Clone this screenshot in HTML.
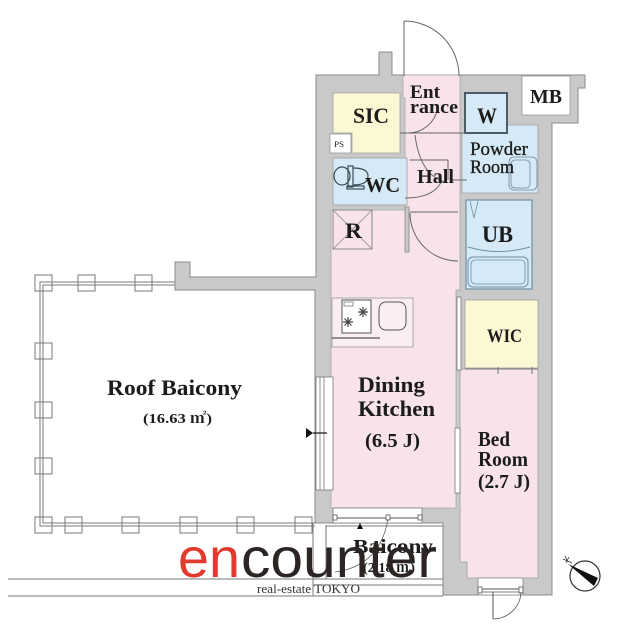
<!DOCTYPE html>
<html><head><meta charset="utf-8"><style>
html,body{margin:0;padding:0;background:#fff;}
svg{display:block;}
text{font-family:"Liberation Serif","Noto Serif CJK JP",serif;}
</style></head><body>
<svg width="618" height="640" viewBox="0 0 618 640" xmlns="http://www.w3.org/2000/svg">
<rect width="618" height="640" fill="#fff"/>

<!-- Roof balcony parapet -->
<g fill="none" stroke="#7a7a7a" stroke-width="1">
  <path d="M175,282 L40,282 L40,526 L315,526"/>
  <path d="M175,285 L43,285 L43,523 L315,523"/>
  <rect x="35" y="275" width="17" height="16"/>
  <rect x="78" y="275" width="17" height="16"/>
  <rect x="135" y="275" width="17" height="16"/>
  <rect x="35" y="343" width="17" height="16"/>
  <rect x="35" y="402" width="17" height="16"/>
  <rect x="35" y="458" width="17" height="16"/>
  <rect x="35" y="517" width="17" height="16"/>
  <rect x="65" y="517" width="17" height="16"/>
  <rect x="122" y="517" width="17" height="16"/>
  <rect x="180" y="517" width="17" height="16"/>
  <rect x="237" y="517" width="17" height="16"/>
  <rect x="295" y="517" width="17" height="16"/>
  <line x1="8" y1="579" x2="443" y2="579"/>
  <line x1="8" y1="596" x2="443" y2="596"/>
  <line x1="313" y1="585" x2="443" y2="585"/>
  <line x1="313" y1="523" x2="313" y2="596"/>
  <line x1="326" y1="525" x2="326" y2="579"/>
  <line x1="326" y1="526" x2="443" y2="526"/>
</g>

<!-- Walls -->
<path d="M316,75 L379,75 L379,52 L392,52 L392,75 L585,75 L585,88 L578,88 L578,123 L552,123 L552,595 L443,595 L443,523 L315,523 L315,290 L175,290 L175,262 L190,262 L190,277 L316,277 Z" fill="#c9c9c9" stroke="#8a8a8a" stroke-width="1"/>

<!-- Pink hall + kitchen -->
<path d="M403,75 L460,75 L460,290 L456,290 L456,508 L331,508 L331,210 L405,210 L405,98 L403,98 Z" fill="#f8e3eb" stroke="#a8a8a8" stroke-width="0.8"/>

<!-- Bedroom -->
<path d="M460,369 L538,369 L538,578 L467,578 L467,562 L460,562 Z" fill="#f8e3eb" stroke="#a0a0a0" stroke-width="0.8"/>
<!-- WIC -->
<rect x="465" y="300" width="73" height="68" fill="#fcf8d4" stroke="#a0a0a0" stroke-width="0.8"/>
<line x1="465" y1="369" x2="538" y2="369" stroke="#777" stroke-width="1"/>
<line x1="498" y1="367" x2="498" y2="374" stroke="#777" stroke-width="1"/>
<line x1="532" y1="367" x2="532" y2="374" stroke="#777" stroke-width="1"/>

<!-- SIC -->
<path d="M333,93 L400,93 L400,153 L352,153 L352,133 L333,133 Z" fill="#fcf8d4" stroke="#a0a0a0" stroke-width="0.8"/>
<rect x="330" y="134" width="21" height="19" fill="#fff" stroke="#999" stroke-width="0.8"/>
<!-- WC -->
<rect x="333" y="158" width="74" height="47" fill="#d5eaf6" stroke="#a0a0a0" stroke-width="0.8"/>
<!-- R box -->
<rect x="333" y="210" width="39" height="39" fill="#f8e3eb" stroke="#8a8a8a" stroke-width="1"/>
<line x1="333" y1="210" x2="372" y2="249" stroke="#8a8a8a" stroke-width="0.8"/>
<line x1="372" y1="210" x2="333" y2="249" stroke="#8a8a8a" stroke-width="0.8"/>

<!-- Powder room -->
<path d="M462,133 L507,133 L507,125 L538,125 L538,193 L462,193 Z" fill="#d5eaf6" stroke="#a0a0a0" stroke-width="0.8"/>
<rect x="465" y="93" width="42" height="40" fill="#d5eaf6" stroke="#4d5b63" stroke-width="2"/>
<rect x="509" y="157" width="28" height="33" rx="5" fill="none" stroke="#6f8796" stroke-width="0.8"/>
<rect x="511" y="160" width="19" height="28" rx="4" fill="none" stroke="#6f8796" stroke-width="0.8"/>
<!-- UB -->
<rect x="466" y="200" width="66" height="89" fill="#d5eaf6" stroke="#6f8fa3" stroke-width="1.2"/>
<path d="M468,247 Q498,256 530,247" fill="none" stroke="#6f8fa3" stroke-width="1"/>
<rect x="468" y="257" width="60" height="30" rx="5" fill="none" stroke="#6f8fa3" stroke-width="1"/>
<rect x="471" y="260" width="54" height="24" rx="4" fill="none" stroke="#6f8fa3" stroke-width="0.8"/>
<path d="M470,201 L474,218 L478,201" fill="none" stroke="#6f8fa3" stroke-width="0.8"/>
<!-- MB -->
<rect x="522" y="76" width="48" height="39" fill="#fff" stroke="#999" stroke-width="0.8"/>

<!-- Doors / hall lines -->
<g fill="none" stroke="#666" stroke-width="1">
  <line x1="404" y1="21" x2="404" y2="76"/>
  <path d="M404,21 A55,55 0 0 1 459,76"/>
  <line x1="400" y1="133" x2="467" y2="133"/>
  <path d="M438,105 A30,30 0 0 1 408,133"/>
  <path d="M415,135 Q420,175 445,182"/>
  <line x1="410" y1="160" x2="448" y2="160"/>
  <line x1="448" y1="160" x2="448" y2="180"/>
  <path d="M442,180 Q435,198 405,198"/>
  <line x1="450" y1="180" x2="467" y2="180"/>
  <line x1="410" y1="212" x2="458" y2="212"/>
  <path d="M410,213 A48,48 0 0 0 458,261"/>
</g>
<rect x="405" y="207" width="4" height="45" fill="#c9c9c9" stroke="#888" stroke-width="0.8"/>

<!-- Toilet -->
<g fill="none" stroke="#3a4a55" stroke-width="1.2">
  <ellipse cx="342" cy="176" rx="8" ry="9"/>
  <rect x="348" y="166" width="5" height="21"/>
  <path d="M353,168 Q368,168 368,176 Q368,185 353,185"/>
  <rect x="347" y="186" width="17" height="3"/>
</g>

<!-- Kitchen counter -->
<rect x="332" y="298" width="81" height="49" fill="#fbeef3" stroke="#999" stroke-width="0.8"/>
<rect x="342" y="300" width="29" height="33" fill="#fff" stroke="#555" stroke-width="1"/>
<rect x="344" y="302" width="9" height="4" fill="none" stroke="#555" stroke-width="0.6"/>
<g stroke="#444" stroke-width="1.2">
  <path d="M363,307 L363,317 M358,312 L368,312 M359.5,308.5 L366.5,315.5 M366.5,308.5 L359.5,315.5"/>
  <path d="M348,317 L348,327 M343,322 L353,322 M344.5,318.5 L351.5,325.5 M351.5,318.5 L344.5,325.5"/>
</g>
<rect x="379" y="302" width="27" height="28" rx="7" fill="none" stroke="#555" stroke-width="1"/>
<line x1="332" y1="338" x2="380" y2="338" stroke="#555" stroke-width="1.2"/>

<!-- Left window -->
<rect x="316" y="377" width="17" height="113" fill="#fff" stroke="#777" stroke-width="0.8"/>
<line x1="320" y1="377" x2="320" y2="490" stroke="#777" stroke-width="0.8"/>
<line x1="324" y1="377" x2="324" y2="490" stroke="#777" stroke-width="0.8"/>
<polygon points="306,428 306,438 313,433" fill="#111"/>
<line x1="313" y1="433" x2="327" y2="433" stroke="#111" stroke-width="1.2"/>

<!-- Sliding doors -->
<g fill="#fff" stroke="#777" stroke-width="0.8">
  <rect x="457" y="297" width="4" height="73"/>
  <rect x="455" y="428" width="5" height="65"/>
</g>

<!-- Bottom balcony window -->
<rect x="333" y="508" width="89" height="15" fill="#fff" stroke="#777" stroke-width="0.8"/>
<line x1="333" y1="518" x2="422" y2="518" stroke="#555" stroke-width="1"/>
<g fill="#fff" stroke="#555" stroke-width="0.8">
  <rect x="333" y="515" width="4" height="5"/>
  <rect x="386" y="515" width="4" height="5"/>
  <rect x="418" y="515" width="4" height="5"/>
</g>
<path d="M388,519 Q380,566 335,572" fill="none" stroke="#666" stroke-width="0.8"/>
<polygon points="357,529 363,529 360,523" fill="#111"/>

<!-- Bedroom bottom door -->
<rect x="478" y="578" width="45" height="17" fill="#fff" stroke="#888" stroke-width="0.8"/>
<line x1="478" y1="589" x2="523" y2="589" stroke="#555" stroke-width="1"/>
<line x1="478" y1="592" x2="523" y2="592" stroke="#555" stroke-width="0.8"/>
<rect x="478" y="587" width="4" height="6" fill="#fff" stroke="#555" stroke-width="0.8"/>
<rect x="519" y="587" width="4" height="6" fill="#fff" stroke="#555" stroke-width="0.8"/>
<line x1="493" y1="592" x2="493" y2="619" stroke="#555" stroke-width="1"/>
<path d="M493,619 A28,28 0 0 0 521,592" fill="none" stroke="#555" stroke-width="0.8"/>

<!-- Compass -->
<circle cx="585" cy="576" r="15" fill="#fff" stroke="#333" stroke-width="1.2"/>
<polygon points="568,564 598,578 594,586" fill="#111"/>
<path d="M563,559 L572,563 M565,556 L568,562 M569,557 L566,563" stroke="#333" stroke-width="0.8" fill="none"/>

<!-- Labels -->
<g fill="#1c1c1c" font-weight="bold">
<text x="410" y="98" font-size="19" textLength="30" lengthAdjust="spacingAndGlyphs">Ent</text>
<text x="410" y="113" font-size="19" textLength="48" lengthAdjust="spacingAndGlyphs">rance</text>
<text x="353" y="123" font-size="22" textLength="36" lengthAdjust="spacingAndGlyphs">SIC</text>
<text x="334" y="147" font-size="8" font-weight="normal" textLength="10" lengthAdjust="spacingAndGlyphs">PS</text>
<text x="365" y="192" font-size="21" textLength="35" lengthAdjust="spacingAndGlyphs">WC</text>
<text x="417" y="183" font-size="20" textLength="37" lengthAdjust="spacingAndGlyphs">Hall</text>
<text x="345" y="238" font-size="22" textLength="17" lengthAdjust="spacingAndGlyphs">R</text>
<text x="477" y="123" font-size="22" textLength="20" lengthAdjust="spacingAndGlyphs">W</text>
<text x="530" y="103" font-size="20" textLength="32" lengthAdjust="spacingAndGlyphs">MB</text>
<text x="470" y="155" font-size="19" font-weight="normal" stroke="#1c1c1c" stroke-width="0.35" textLength="58" lengthAdjust="spacingAndGlyphs">Powder</text>
<text x="470" y="173" font-size="19" font-weight="normal" stroke="#1c1c1c" stroke-width="0.35" textLength="44" lengthAdjust="spacingAndGlyphs">Room</text>
<text x="482" y="242" font-size="23" textLength="31" lengthAdjust="spacingAndGlyphs">UB</text>
<text x="487" y="342" font-size="19" textLength="35" lengthAdjust="spacingAndGlyphs">WIC</text>
<text x="358" y="392" font-size="22" textLength="67" lengthAdjust="spacingAndGlyphs">Dining</text>
<text x="358" y="416" font-size="22" textLength="77" lengthAdjust="spacingAndGlyphs">Kitchen</text>
<text x="365" y="447" font-size="20" textLength="55" lengthAdjust="spacingAndGlyphs">(6.5 J)</text>
<text x="478" y="446" font-size="21" textLength="32" lengthAdjust="spacingAndGlyphs">Bed</text>
<text x="478" y="466" font-size="21" textLength="50" lengthAdjust="spacingAndGlyphs">Room</text>
<text x="478" y="488" font-size="20" textLength="52" lengthAdjust="spacingAndGlyphs">(2.7 J)</text>
<text x="107" y="395" font-size="22" textLength="135" lengthAdjust="spacingAndGlyphs">Roof Baicony</text>
<text x="143" y="423" font-size="14" textLength="69" lengthAdjust="spacingAndGlyphs">(16.63 ㎡)</text>
<text x="353" y="553" font-size="20" textLength="80" lengthAdjust="spacingAndGlyphs">Baicony</text>
<text x="363" y="572" font-size="14" textLength="52" lengthAdjust="spacingAndGlyphs">(2.18 ㎡)</text>
</g>

<!-- Logo -->
<text x="178" y="577" font-size="56" font-weight="normal" style="font-family:'Liberation Sans',sans-serif" fill="#e23a2e" textLength="62" lengthAdjust="spacingAndGlyphs">en</text>
<text x="241" y="577" font-size="56" font-weight="normal" style="font-family:'Liberation Sans',sans-serif" fill="#2b2624" textLength="196" lengthAdjust="spacingAndGlyphs">counter</text>
<text x="257" y="593" font-size="13" font-weight="normal" fill="#333" textLength="103" lengthAdjust="spacingAndGlyphs">real-estate TOKYO</text>
</svg>
</body></html>
